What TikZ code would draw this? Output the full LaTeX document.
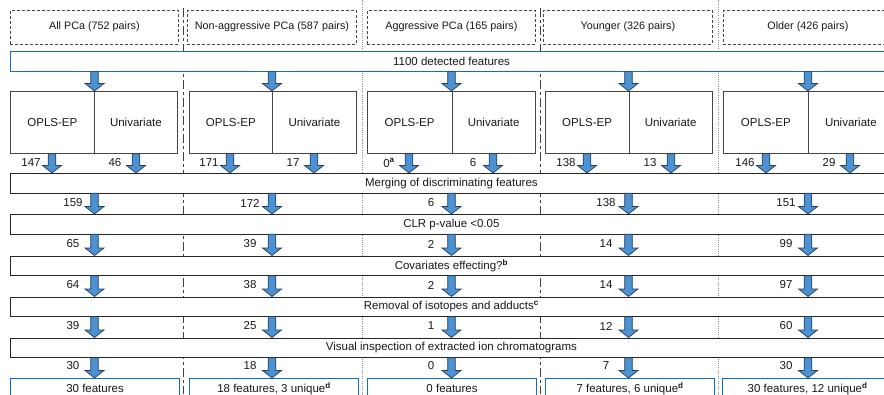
\documentclass[tikz,border=0pt]{standalone}
\usepackage{fontspec}
\setmainfont{Liberation Sans}
\usetikzlibrary{calc}
\definecolor{bluebar}{RGB}{20,108,190}
\definecolor{arrfill}{RGB}{76,145,210}
\definecolor{arrline}{RGB}{40,62,92}
\definecolor{boxline}{RGB}{70,70,70}
\definecolor{txt}{RGB}{25,25,25}
\newcommand\fatarrow[2]{%
  \path[draw=arrline, fill=arrfill, line width=0.7pt, line join=miter]
    let \p1=(#1), \p2=(#2) in
    (\x1-3.8pt,\y1) -- (\x1+3.8pt,\y1) -- (\x1+3.8pt,\y2+7.5pt) -- (\x1+9.5pt,\y2+7.5pt)
    -- (\x1,\y2) -- (\x1-9.5pt,\y2+7.5pt) -- (\x1-3.8pt,\y2+7.5pt) -- cycle;}
\tikzset{
  base/.style={font=\fontsize{11.5}{13}\selectfont, text=txt, inner sep=0pt},
  topbox/.style={base, draw=boxline, dash pattern=on 3pt off 2pt, line width=0.8pt, fill=white,
    font=\fontsize{10.8}{13}\selectfont, minimum height=33.5pt, anchor=north west},
  bluebox/.style={base, draw=bluebar, line width=1.1pt, fill=white, minimum height=20pt, anchor=north west},
  stagebar/.style={base, draw=black!85, line width=0.8pt, fill=white, minimum width=882pt,
    minimum height=19.5pt, anchor=north west},
  methbox/.style={base, draw=boxline, line width=0.8pt, fill=white, minimum height=62pt, anchor=north west},
  num/.style={base},
  sepA/.style={draw=black!75, line width=1pt, dash pattern=on 9pt off 3pt on 3pt off 3pt},
  sepB/.style={draw=black!45, line width=0.7pt, dash pattern=on 1pt off 1.2pt},
}
\begin{document}
\begin{tikzpicture}[x=1pt,y=-1pt]
\useasboundingbox (0,0) rectangle (884,394);
\clip (0,0) rectangle (884,394);
% column separators
\draw[sepA] (183,8) -- (183,394);
\draw[sepB] (362,0) -- (362,394);
\draw[sepA] (540,8) -- (540,394);
\draw[sepB] (718,0) -- (718,394);
% column coordinates
\coordinate (k1) at (94.5,0);
\coordinate (k2) at (272,0);
\coordinate (k3) at (451.5,0);
\coordinate (k4) at (628.5,0);
\coordinate (k5) at (808,0);
\coordinate (o1) at (52,0);  \coordinate (u1) at (136,0);
\coordinate (o2) at (230,0); \coordinate (u2) at (314,0);
\coordinate (o3) at (409,0); \coordinate (u3) at (493,0);
\coordinate (o4) at (587,0); \coordinate (u4) at (671,0);
\coordinate (o5) at (766,0); \coordinate (u5) at (850,0);
% top group boxes
\node[topbox, minimum width=168pt] (g1) at (10,10) {All PCa (752 pairs)};
\node[topbox, minimum width=169pt] (g2) at (187,10) {Non-aggressive PCa (587 pairs)};
\node[topbox, minimum width=168pt] (g3) at (367,10) {Aggressive PCa (165 pairs)};
\node[topbox, minimum width=169pt] (g4) at (543,10) {Younger (326 pairs)};
\node[topbox, minimum width=169pt] (g5) at (723,10) {Older (426 pairs)};
% detected features
\node[bluebox, minimum width=882pt] (det) at (10,50.5) {1100 detected features};
% method boxes
\node[methbox, minimum width=84pt] (m1o) at (10,91) {OPLS-EP};
\node[methbox, minimum width=83pt] (m1u) at (94,91) {Univariate};
\node[methbox, minimum width=83pt] (m2o) at (189,91) {OPLS-EP};
\node[methbox, minimum width=84pt] (m2u) at (272,91) {Univariate};
\node[methbox, minimum width=84.5pt] (m3o) at (367,91) {OPLS-EP};
\node[methbox, minimum width=83.5pt] (m3u) at (451.5,91) {Univariate};
\node[methbox, minimum width=83.5pt] (m4o) at (545,91) {OPLS-EP};
\node[methbox, minimum width=83.5pt] (m4u) at (628.5,91) {Univariate};
\node[methbox, minimum width=85pt] (m5o) at (723,91) {OPLS-EP};
\node[methbox, minimum width=85pt] (m5u) at (808,91) {Univariate};
% stage bars
\node[stagebar] (merge) at (10,173) {Merging of discriminating features};
\node[stagebar] (clr) at (10,214) {CLR p-value <0.05};
\node[stagebar] (cov) at (10,255.5) {Covariates effecting?\textsuperscript{\textbf{b}}};
\node[stagebar] (iso) at (10,296.5) {Removal of isotopes and adducts\textsuperscript{\textbf{c}}};
\node[stagebar] (vis) at (10,337.5) {Visual inspection of extracted ion chromatograms};
% final boxes
\node[bluebox, minimum width=169pt] (f1) at (10,378) {30 features};
\node[bluebox, minimum width=169pt] (f2) at (189,378) {18 features, 3 unique\textsuperscript{\textbf{d}}};
\node[bluebox, minimum width=169pt] (f3) at (367,378) {0 features};
\node[bluebox, minimum width=169pt] (f4) at (545,378) {7 features, 6 unique\textsuperscript{\textbf{d}}};
\node[bluebox, minimum width=170pt] (f5) at (722,378) {30 features, 12 unique\textsuperscript{\textbf{d}}};
% arrows: detected -> methods
\foreach \i in {1,...,5} {
  \fatarrow{det.south -| k\i}{m\i o.north -| k\i}
  \fatarrow{m\i o.south -| o\i}{merge.north -| o\i}
  \fatarrow{m\i u.south -| u\i}{merge.north -| u\i}
  \fatarrow{merge.south -| k\i}{clr.north -| k\i}
  \fatarrow{clr.south -| k\i}{cov.north -| k\i}
  \fatarrow{cov.south -| k\i}{iso.north -| k\i}
  \fatarrow{iso.south -| k\i}{vis.north -| k\i}
  \fatarrow{vis.south -| k\i}{f\i.north -| k\i}
}
% counts below the methods
\node[num] (b1o) at (31,163) {147};
\node[num] (b1u) at (115,163) {46};
\node[num] (b2o) at (209,163) {171};
\node[num] (b2u) at (293,163) {17};
\node[num] (b3o) at (389,163) {0\textsuperscript{\textbf{a}}};
\node[num] (b3u) at (473,163) {6};
\node[num] (b4o) at (566,163) {138};
\node[num] (b4u) at (650,163) {13};
\node[num] (b5o) at (745,163) {146};
\node[num] (b5u) at (829,163) {29};
% counts in the later rows
\foreach \r/\yy/\a/\b/\c/\d/\e in {C/203/159/172/6/138/151, D/244/65/39/2/14/99,
    E/285/64/38/2/14/97, F/326/39/25/1/12/60, G/366/30/18/0/7/30} {
  \node[num] (n\r1) at (73,\yy) {\a};
  \node[num] (n\r2) at (250,\yy) {\b};
  \node[num] (n\r3) at (431,\yy) {\c};
  \node[num] (n\r4) at (606,\yy) {\d};
  \node[num] (n\r5) at (786,\yy) {\e};
}
\end{tikzpicture}
\end{document}
